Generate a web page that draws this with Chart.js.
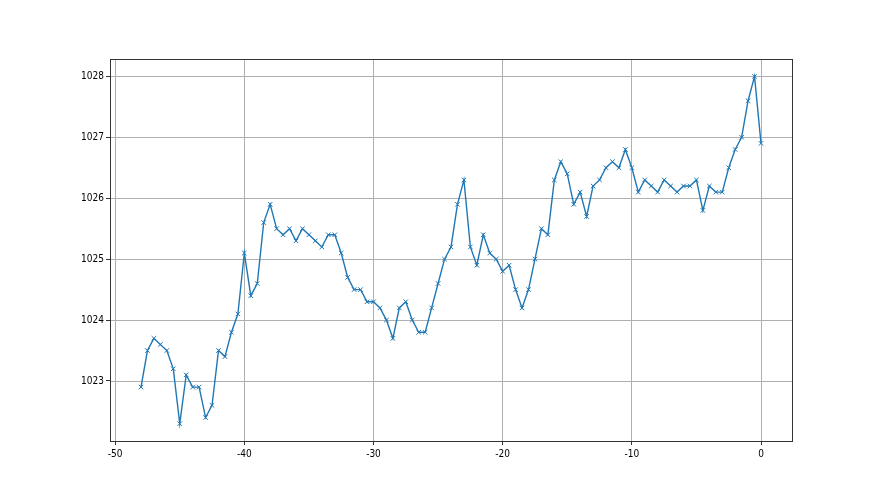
<!DOCTYPE html>
<html>
<head>
<meta charset="utf-8">
<script src="https://cdn.jsdelivr.net/npm/chart.js@4/dist/chart.umd.min.js"></script>
<style>
    body { margin: 0; background: #ffffff; }
    #graph { position: absolute; left: 0; top: 0; }
</style>
</head>
<body>
<canvas id="graph" width="880" height="495"></canvas>
<script>
// ==========================================
// DONNÉES
// ==========================================

// heures (pas de 0.5)
const heures = [
    -48, -47.5, -47, -46.5, -46, -45.5, -45, -44.5, -44, -43.5,
    -43, -42.5, -42, -41.5, -41, -40.5, -40, -39.5, -39, -38.5,
    -38, -37.5, -37, -36.5, -36, -35.5, -35, -34.5, -34, -33.5,
    -33, -32.5, -32, -31.5, -31, -30.5, -30, -29.5, -29, -28.5,
    -28, -27.5, -27, -26.5, -26, -25.5, -25, -24.5, -24, -23.5,
    -23, -22.5, -22, -21.5, -21, -20.5, -20, -19.5, -19, -18.5,
    -18, -17.5, -17, -16.5, -16, -15.5, -15, -14.5, -14, -13.5,
    -13, -12.5, -12, -11.5, -11, -10.5, -10, -9.5, -9, -8.5,
    -8, -7.5, -7, -6.5, -6, -5.5, -5, -4.5, -4, -3.5,
    -3, -2.5, -2, -1.5, -1, -0.5, 0
];

// pression (hPa)
const pressions = [
    1022.9, 1023.5, 1023.7, 1023.6, 1023.5, 1023.2, 1022.3, 1023.1, 1022.9, 1022.9,
    1022.4, 1022.6, 1023.5, 1023.4, 1023.8, 1024.1, 1025.1, 1024.4, 1024.6, 1025.6,
    1025.9, 1025.5, 1025.4, 1025.5, 1025.3, 1025.5, 1025.4, 1025.3, 1025.2, 1025.4,
    1025.4, 1025.1, 1024.7, 1024.5, 1024.5, 1024.3, 1024.3, 1024.2, 1024.0, 1023.7,
    1024.2, 1024.3, 1024.0, 1023.8, 1023.8, 1024.2, 1024.6, 1025.0, 1025.2, 1025.9,
    1026.3, 1025.2, 1024.9, 1025.4, 1025.1, 1025.0, 1024.8, 1024.9, 1024.5, 1024.2,
    1024.5, 1025.0, 1025.5, 1025.4, 1026.3, 1026.6, 1026.4, 1025.9, 1026.1, 1025.7,
    1026.2, 1026.3, 1026.5, 1026.6, 1026.5, 1026.8, 1026.5, 1026.1, 1026.3, 1026.2,
    1026.1, 1026.3, 1026.2, 1026.1, 1026.2, 1026.2, 1026.3, 1025.8, 1026.2, 1026.1,
    1026.1, 1026.5, 1026.8, 1027.0, 1027.6, 1028.0, 1026.9
];

// graduations
const graduationsX = [-50, -40, -30, -20, -10, 0];
const graduationsY = [1023, 1024, 1025, 1026, 1027, 1028];

// ==========================================
// GRILLE HORIZONTALE + CADRE
// (bornes prises sur les échelles, pas sur chartArea)
// ==========================================

function bornes(chart) {
    const x = chart.scales.x;
    const y = chart.scales.y;
    return {
        gauche: Math.round(x.getPixelForValue(x.min)),
        droite: Math.round(x.getPixelForValue(x.max)),
        haut: Math.round(y.getPixelForValue(y.max)),
        bas: Math.round(y.getPixelForValue(y.min))
    };
}

const cadre = {
    id: "cadre",
    beforeDatasetsDraw(chart) {
        const ctx = chart.ctx;
        const y = chart.scales.y;
        const b = bornes(chart);
        ctx.save();
        ctx.strokeStyle = "#b0b0b0";
        ctx.lineWidth = 1;
        ctx.beginPath();
        for (const v of graduationsY) {
            const py = Math.round(y.getPixelForValue(v)) + 0.5;
            ctx.moveTo(b.gauche, py);
            ctx.lineTo(b.droite, py);
        }
        ctx.stroke();
        ctx.restore();
    },
    afterDraw(chart) {
        const ctx = chart.ctx;
        const b = bornes(chart);
        ctx.save();
        ctx.strokeStyle = "#333333";
        ctx.lineWidth = 1;
        ctx.strokeRect(b.gauche + 0.5, b.haut + 0.5, b.droite - b.gauche, b.bas - b.haut);
        ctx.restore();
    }
};

const police = { family: "'Liberation Sans Narrow', 'DejaVu Sans Condensed', sans-serif", size: 10 };

// ==========================================
// GRAPHIQUE PRESSION
// ==========================================

new Chart(document.getElementById("graph"), {

    type: "line",

    data: {
        datasets: [{
            data: heures.map((h, i) => ({ x: h, y: pressions[i] })),
            borderColor: "#1f77b4",
            backgroundColor: "#1f77b4",
            borderWidth: 1.4,
            pointStyle: "crossRot",
            pointRadius: 3.2,
            pointBorderWidth: 1,
            pointBorderColor: "#1f77b4",
            tension: 0,
            fill: false
        }]
    },

    options: {
        responsive: false,
        devicePixelRatio: 1,
        animation: false,
        layout: {
            autoPadding: false,
            padding: { left: 0, top: 59, right: 88, bottom: 0 }
        },
        plugins: {
            legend: { display: false },
            tooltip: { enabled: false }
        },
        scales: {
            x: {
                type: "linear",
                min: -50.4,
                max: 2.4,
                afterBuildTicks(scale) {
                    scale.ticks = graduationsX.map(v => ({ value: v }));
                },
                afterFit(scale) { scale.height = 54; },
                border: { display: false },
                grid: {
                    color: "#b0b0b0",
                    lineWidth: 1,
                    tickColor: "#333333",
                    tickLength: 4
                },
                ticks: {
                    color: "#000000",
                    font: police,
                    padding: 3,
                    maxRotation: 0,
                    callback: v => String(v)
                }
            },
            y: {
                type: "linear",
                min: 1022.015,
                max: 1028.285,
                afterBuildTicks(scale) {
                    scale.ticks = graduationsY.map(v => ({ value: v }));
                },
                afterFit(scale) { scale.width = 110; },
                border: { display: false },
                grid: {
                    // lignes tracées par le plugin, seules les graduations restent ici
                    color: "rgba(0,0,0,0)",
                    lineWidth: 1,
                    tickColor: "#333333",
                    tickLength: 4
                },
                ticks: {
                    color: "#000000",
                    font: police,
                    padding: 2,
                    callback: v => String(v)
                }
            }
        }
    },

    plugins: [cadre]

});
</script>
</body>
</html>
